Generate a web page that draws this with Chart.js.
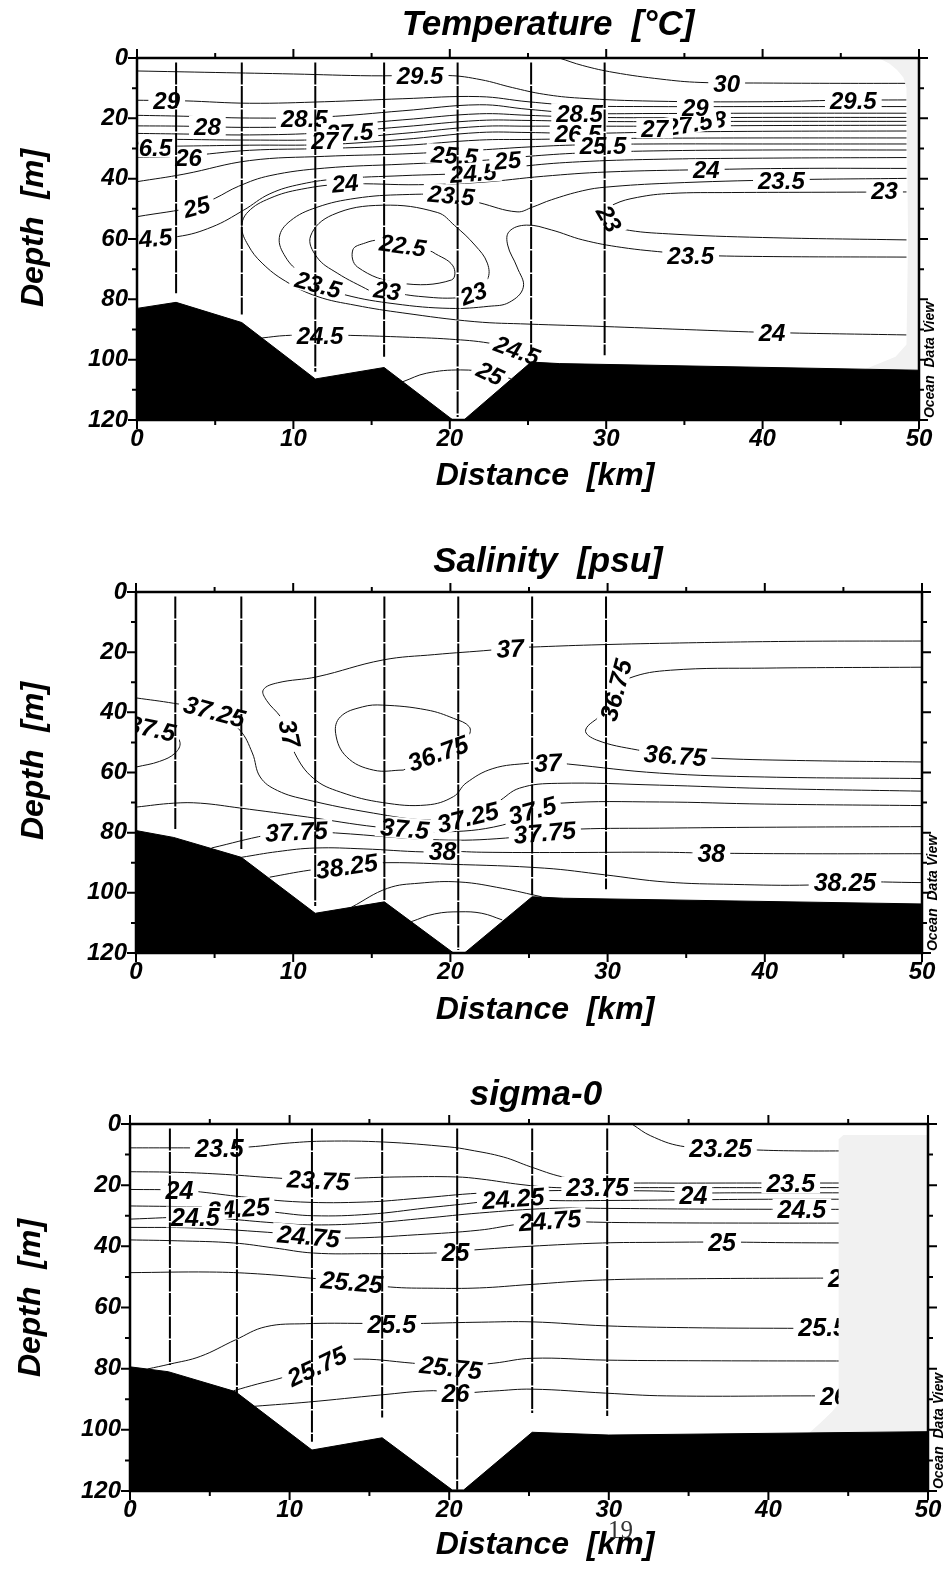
<!DOCTYPE html>
<html>
<head>
<meta charset="utf-8">
<script src="https://cdn.jsdelivr.net/npm/chart.js@4.4.1/dist/chart.umd.min.js"></script>
<style>
  body { margin: 0; background: #fff; width: 948px; height: 1569px; position: relative; overflow: hidden; }
  canvas { position: absolute; left: 0; }
  #pageNo { position: absolute; left: 608px; top: 1516px; font: 25px "Liberation Serif", "DejaVu Serif", serif; color: #333; }
</style>
</head>
<body>
<canvas id="tempChart" width="948" height="530" style="top:0"></canvas>
<canvas id="salChart" width="948" height="540" style="top:530px"></canvas>
<canvas id="sigChart" width="948" height="499" style="top:1070px"></canvas>
<div id="pageNo">19</div>

<script>
const FAMILY = '"Liberation Sans", Arial, sans-serif';

/* ===============================
   AXES / STATIONS
================================ */

const kmTicks = [0, 5, 10, 15, 20, 25, 30, 35, 40, 45, 50];
const depthTicks = [0, 10, 20, 30, 40, 50, 60, 70, 80, 90, 100, 110, 120];

const stationKm = [2.5, 6.7, 11.4, 15.8, 20.5, 25.2, 29.9];
const stationEndTemp = [78, 85, 104, 99, 119, 97.5, 98.5];
const stationEndSal = [78.8, 85.4, 104.4, 102.4, 119, 100.8, 98.8];
const stationEndSig = [78.8, 88, 103.9, 96, 119.6, 94.5, 95.5];

/* ===============================
   BOTTOM PROFILES  [km, m]
================================ */

const bottomTemp = [[0,83],[2.5,81],[6.7,87.7],[11.4,106.4],[15.8,102.6],[20.2,120],[20.9,120],[25.2,100.8],[27,101.3],[50,103.5]];
const bottomSal = [[0,79.3],[2.4,81.6],[6.7,88.2],[11.4,106.8],[15.8,103],[20.2,120],[20.9,120],[25.2,101.3],[27.2,101.8],[50,103.7]];
const bottomSig = [[0,79.4],[2.4,81],[6.6,87.5],[11.4,106.6],[15.8,102.6],[20.2,119.7],[20.9,119.7],[25.2,100.8],[30,101.7],[50,100.6]];

// areas without data (grey)
const noDataTemp = [[46.5,103.3],[48.5,99],[49.2,95],[49.3,60],[49.2,10],[49,6.5],[48.6,4],[48.1,1.8],[47.4,0],[50,0]];
const noDataSal = [];
const noDataSig = [[42.6,100.8],[43.3,97.5],[44,94],[44.4,91.5],[44.4,5],[44.7,3.6],[50,3.6]];

/* ===============================
   TEMPERATURE ISOLINES  [km, m]
================================ */

const tempIsolines = [
  [[27,0],[28.5,2.5],[30.5,4.8],[33.5,7],[36,8.1],[40,8.3],[45,8.4],[49.2,8.4]],                          // 30
  [[0,4.3],[5,4.8],[10,5.3],[15,5.9],[19.9,5.8],[22,7.2],[24,9.8],[26,12],[28.3,13.3],[33,14.3],[40,14.5],[45,14],[49.2,13.9]], // 29.5
  [[0,14],[3,14.2],[7.2,15],[12,14.5],[17,13.5],[21.9,12.8],[25,14.5],[28.3,15.8],[33,16.1],[40,16.1],[49.2,16.1]],  // 29
  [[0,19],[3,19.3],[7.2,19.9],[12,19.5],[17,17.5],[21.9,15.5],[25,17],[28.3,18.3],[33,18.4],[40,18.3],[49.2,18.3]],  // 28.5
  [[0,22.5],[3,22.6],[7.2,23],[12,22.5],[17,20.5],[21.9,18.5],[25,19],[28.3,19.6],[33,19.8],[40,19.7],[49.2,19.7]],  // 28
  [[0,25],[3,25.2],[7.2,25.5],[12,24.8],[17,22.8],[21.9,20.7],[25,20.7],[28.3,21],[33,21.1],[40,21],[49.2,21]],      // 27.5
  [[0,26.8],[3,27],[7.2,27.2],[12,27],[17,25],[21.9,22.7],[25,22.6],[28.3,22.6],[33,22.6],[40,22.4],[49.2,22.3]],    // 27
  [[0,29.4],[3,29.2],[7.2,28.9],[12,28.7],[17,27],[21.9,24.7],[25,24.7],[28.3,25],[33,24.6],[40,24.3],[49.2,24.2]],  // 26.5
  [[0,33],[3,32.5],[7.2,30.6],[12,30],[17,29],[21.9,27.2],[25,27],[28.3,26.8],[33,26.6],[40,26.5],[49.2,26.5]],      // 26
  [[0,41],[3,38.5],[7.2,34],[12,32.6],[17,31.8],[21.9,30.5],[25,29.5],[28.3,28.8],[33,28.5],[40,28.5],[49.2,28.5]],  // 25.5
  [[0,52.6],[3.8,49.2],[5,46.5],[6.5,42.5],[8.5,39],[12,36.5],[17,35.2],[21.9,34],[25,32.6],[28.3,31.5],[33,30.8],[40,30.5],[49.2,30.5]], // 25
  [[0,59.7],[2.6,59.2],[4.8,56],[6.8,50.5],[8.5,45],[10.5,41.8],[13,40],[17,39],[21.5,38],[25,35.7],[28.3,34.4],[33,33.6],[40,33.2],[49.2,33]], // 24.5
  [[49.2,36.6],[42,36.6],[36.4,37],[30,37.8],[26,39.2],[22,41.2],[18,42],[13.3,41.8],[10.5,43.5],[8.5,46.5],[7.1,51],[6.7,56],[7.1,62],[8,68],[9.5,74],[11.5,79],[14,82],[17,84.5],[21.6,87.4],[25,88.2],[29.8,89],[35,90],[40.6,91],[49.2,91.8]], // 24
  [[49.2,39.9],[41.2,40.4],[34,41.5],[30,42.8],[28.5,44],[26.5,47],[25.3,49.4],[24.3,51],[21.9,48],[20.1,45.6],[17,45.3],[14,46.5],[11.5,49.5],[9.8,54],[9.1,59.5],[9.5,66],[10.5,71.5],[11.6,75],[13.3,78.5],[16.5,81.5],[20,83],[22.5,82.3],[23.8,81],[24.7,76],[24.3,69.3],[23.7,62],[23.8,57.5],[24.9,55.4],[26.5,57],[28.5,60.3],[31,62.8],[34.1,64.6],[35.4,65.3],[40,65.8],[49.2,66]], // 23.5
  [[49.2,44.4],[44,44.5],[38,44.6],[34.1,44.9],[32,46.2],[30.5,48.5],[29.8,51.5],[30,54.5],[31.1,56.8],[34,58.3],[40,59.5],[49.2,60.3]], // 23 (east)
  [[14.9,77.2],[12.8,71.3],[11.5,66],[11.1,59],[12.5,52],[15.7,48.8],[19.2,51.2],[20.3,55.5],[21.6,62],[22.4,68],[22.4,73.5],[21.5,77.9],[20.5,79.5],[18,79],[16,77.5],[14.9,77.2]], // 23 (core)
  [[18.9,64.3],[20.2,68.9],[20.1,73.6],[16.8,74.6],[14.1,69.3],[13.8,63.6],[14.6,61.3],[15.5,60.3],[17,60.6],[18.9,64.3]], // 22.5
  [[8,92.8],[9.5,92],[11.7,91.8],[14,92],[17,92.5],[20,93.2],[22.5,94.5],[24.3,96.8],[25.3,100]],          // 24.5 (deep)
  [[17,107.3],[18.5,104.5],[20.7,103.4],[22.6,104.4],[23.9,106.3]]                                           // 25 (deep)
];

const tempLabels = [
  ['30', 37.7, 8.3, 0], ['29.5', 18.1, 5.6, 0], ['29.5', 45.8, 13.9, 0],
  ['29', 1.9, 14, 0], ['28', 4.5, 22.5, 0], ['26.5', 0.75, 29.6, 0], ['26', 3.3, 32.8, 0],
  ['25', 3.8, 49.2, -15], ['24.5', 0.75, 59.7, -5],
  ['28.5', 10.7, 19.9, 0], ['27.5', 13.6, 24.5, -3], ['27', 12, 27.2, 0], ['24', 13.3, 41.4, -5],
  ['25.5', 20.3, 32.2, 4], ['24.5', 21.5, 38, -4], ['25', 23.7, 33.8, -5], ['23.5', 20.1, 45.4, 5],
  ['22.5', 17, 62, 8], ['23.5', 11.6, 75, 15], ['23', 16, 77, 8], ['23', 21.5, 77.9, -20],
  ['24.5', 11.7, 91.8, 0], ['24.5', 24.3, 96.8, 20], ['25', 22.6, 104.4, 25],
  ['28.5', 28.3, 18.3, 0], ['26.5', 28.2, 25, 0], ['25.5', 29.8, 28.8, 0],
  ['28', 36.8, 20.2, 0], ['27.5', 35.3, 21.8, -10], ['29', 35.7, 16.2, 0], ['27', 33.1, 23.3, 0],
  ['24', 36.4, 37, 0], ['23.5', 41.2, 40.4, 0], ['23', 47.8, 43.8, 0], ['23', 30.2, 53.2, 60],
  ['23.5', 35.4, 65.3, 0], ['24', 40.6, 91, 0]
];

/* ===============================
   SALINITY ISOLINES  [km, m]
================================ */

const salIsolines = [
  [[50,16.3],[42,16.4],[34,17],[29,17.6],[25.2,18.3],[23.8,18.6],[22.6,19.3],[19,20.8],[15.7,22.6],[11.5,28.2],[9,30.2],[8.1,32.5],[8.3,36],[9.2,41.5],[9.8,47],[10.1,53.6],[11.3,62],[13,66.5],[15.7,70],[18.5,70.8],[20.2,68],[21,63.5],[22.7,58.7],[25,56.9],[26.2,56.6],[27.5,57.2],[33.3,60.2],[40,61.5],[50,62]], // 37
  [[17,59.2],[15.1,59.2],[13.4,54.8],[12.7,47],[13,41.5],[14.4,38.2],[15.7,37.6],[18.5,39.2],[20.2,42],[21.2,44.8],[21.1,48],[19.2,53.5],[17,59.2]], // 36.75 (west)
  [[50,25],[40,25.3],[34,26],[31.4,28.6],[30.5,32.6],[29.7,40.2],[28.6,45.9],[29.3,49.2],[31.9,52.5],[34.3,54.2],[36.5,55.2],[42,56],[50,56.5]], // 36.75 (east)
  [[0,35.2],[2.4,37],[5,39.6],[6.6,45.9],[7.4,53.5],[7.9,61.5],[9,66],[10.9,69.1],[15.1,73.5],[18.5,75.8],[21.1,74.8],[23,69.8],[24.4,65.2],[26.8,63.6],[33.3,64.2],[40,65.3],[50,66.2]], // 37.25
  [[0,58.2],[1.5,56.3],[2.5,53.5],[2.8,50],[2.3,47],[1,45.2],[-0.5,44.5]],                                   // 37.5 (west)
  [[0,71.5],[2.4,70.2],[4.1,70.2],[6.6,71.8],[10.9,74.8],[15.3,78.1],[17.1,78.5],[19.3,79.8],[23.3,77.5],[25.2,72.5],[27,70.2],[33.3,69.8],[40,70.5],[50,71]], // 37.5
  [[4.8,85.1],[8.3,80.8],[10.2,79.5],[12.7,80.1],[19.3,82.4],[23.5,81.8],[26,79.8],[28.2,78.8],[33.3,78.5],[40,78.2],[50,78]], // 37.75
  [[6.7,88.2],[9,86.3],[11.4,85.1],[14.5,85.4],[18.3,86.4],[19.5,86.1],[22,86.5],[27,86.6],[33.3,86.5],[36.6,86.8],[42,87],[50,87]], // 38
  [[8.5,94.8],[11,92.5],[13.4,91],[15.6,90],[20,90.5],[26,91.8],[29.8,94],[33.7,96.4],[38,97.2],[42.9,97.4],[45.1,96.4],[50,96.6]], // 38.25
  [[13.7,104.8],[16,98.5],[18,96.8],[20.6,96.4],[23.3,98.5],[25.8,101.3]],                                    // 38.5
  [[17.5,109.6],[19,107],[20.6,106.3],[22,106.8],[23.3,109]]                                                  // 38.75
];

const salLabels = [
  ['37', 23.8, 18.6, -3], ['36.75', 30.5, 32.6, -75], ['37.25', 5, 39.6, 15], ['37', 9.8, 47, 78],
  ['36.75', 19.2, 53.5, -20], ['37', 26.2, 56.6, -3], ['36.75', 34.3, 54.2, 4], ['37.5', 1.0, 45.2, 12],
  ['37.75', 10.2, 79.5, -3], ['37.5', 17.1, 78.5, 5], ['37.25', 21.1, 74.8, -14], ['37.5', 25.2, 72.5, -15],
  ['37.75', 26, 79.8, -5], ['38', 19.5, 86.1, 0], ['38', 36.6, 86.8, 0], ['38.25', 13.4, 91, -8],
  ['38.25', 45.1, 96.4, 0]
];

/* ===============================
   SIGMA-0 ISOLINES  [km, m]
================================ */

const sigIsolines = [
  [[31.5,0.2],[32.6,3.8],[34.5,7.2],[37,7.9],[39.3,8.5],[42,8.8],[45,8.8]],                                  // 23.25
  [[0,7.8],[3,7.8],[5.6,7.8],[7.5,7.5],[10,6.2],[12.3,5.6],[15.9,5.9],[20,7.5],[21.3,8.5],[23.4,10.8],[25.1,14],[27.1,17.3],[29.3,19],[33,19.3],[38,19.3],[41.4,19.3],[45,19.3]], // 23.5
  [[0,15.6],[3,15.8],[6,16.5],[9,17.6],[11.8,18.3],[14.2,17.7],[17,17.3],[20.4,17.3],[22,18],[24.5,19.8],[26.7,20.8],[29.3,20.8],[31.3,20.8],[36,20.8],[40,20.8],[45,20.8]], // 23.75
  [[0,21.4],[3.1,21.6],[4.4,22.2],[7,23.8],[10.7,25.5],[14.8,25.5],[18,24.3],[21.9,22.6],[26.3,21.8],[30,21.8],[33.8,22],[35.3,22.5],[38,22.5],[45,22.5]], // 24
  [[0,26.8],[3,27],[6.8,27.5],[9,28.8],[11.5,30],[15,29.5],[18.5,27.5],[21.5,25.8],[24,24.2],[26.3,25],[30,25],[35,24.8],[40,24.6],[45,24.6]], // 24.25
  [[0,31.1],[4.1,30.4],[6,31],[9,32.3],[11.5,33],[15,32.4],[18.5,30.8],[21.9,29.1],[26.3,27.6],[30,27.6],[35,27.8],[42.1,27.9],[45,27.9]], // 24.5
  [[0,33.8],[4,34],[8.6,35.4],[11.2,36.6],[13.6,37.3],[18,36.2],[21.9,34.7],[24,33],[26.3,31.4],[28.4,32],[33,32.3],[40,32.4],[45,32.4]], // 24.75
  [[0,37.9],[3,38.2],[6.5,38.9],[9,40.5],[11.5,42.2],[15,42.4],[19,42.2],[20.4,41.8],[21.5,41.2],[25,40],[29.6,38.9],[33,38.7],[37.1,38.6],[41,38.8],[45,38.9]], // 25
  [[0,48.6],[5,48.4],[8,49],[11.3,50.4],[13.9,51.6],[16.3,53.3],[19,53.7],[21.9,53.6],[25,52.5],[29.6,51],[35,50.6],[43,50.4],[45,50.4]], // 25.25
  [[1.1,80.1],[2.5,78.5],[4.4,76],[6.6,70.6],[8.5,66.3],[11,65.3],[14.6,65.2],[16.4,65.4],[18.4,65.2],[22,64.8],[25.2,64.7],[29.8,66],[35,66.6],[41.2,66.8],[45,66.8]], // 25.5
  [[6.5,87.2],[8,85],[9.5,83],[11.7,79.1],[14,76.9],[17.7,78.2],[20.1,79.5],[22.8,78.2],[25.2,76.6],[29.8,77.2],[35,77.4],[45,77.5]], // 25.75
  [[7.8,92.3],[11.2,90.9],[15.7,88.6],[19,87.2],[20.4,88],[22.8,87.3],[25.2,86.7],[29.8,88],[33.6,88.9],[42.7,88.9],[45,88.9]] // 26
];

const sigLabels = [
  ['23.5', 5.6, 7.8, 0], ['23.75', 11.8, 18.3, 3], ['23.25', 37, 7.8, 0], ['23.75', 29.3, 20.6, 0],
  ['24', 35.3, 23.2, 0], ['23.5', 41.4, 19.3, 0], ['24', 3.1, 21.6, 0], ['24.25', 6.8, 27.5, -4],
  ['24.5', 4.1, 30.4, 0], ['24.25', 24, 24.2, -4], ['24.75', 11.2, 36.6, 5], ['24.75', 26.3, 31.4, -4],
  ['24.5', 42.1, 27.8, 0], ['25', 20.4, 41.8, 0], ['25', 37.1, 38.6, 0], ['25.25', 13.9, 51.6, 5],
  ['25.25', 45.7, 50.4, 0], ['25.5', 16.4, 65.4, 0], ['25.5', 43.4, 66.4, 0], ['25.75', 11.7, 79.1, -25],
  ['25.75', 20.1, 79.5, 6], ['26', 20.4, 88, 0], ['26', 44.1, 88.8, 0]
];

/* ===============================
   DRAWING HELPERS
================================ */

const tickFont = { family: FAMILY, size: 24, style: "italic", weight: "bold" };

function drawIsoLabels(chart, labels, size) {
  const { ctx, chartArea: a, scales: { x, y } } = chart;
  ctx.save();
  ctx.beginPath();
  ctx.rect(a.left, a.top, a.right - a.left, a.bottom - a.top);
  ctx.clip();
  ctx.font = `italic bold ${size}px ${FAMILY}`;
  ctx.textAlign = "center";
  ctx.textBaseline = "alphabetic";
  labels.forEach(([text, km, m, deg]) => {
    const w = ctx.measureText(text).width;
    ctx.save();
    ctx.translate(x.getPixelForValue(km), y.getPixelForValue(m));
    ctx.rotate(deg * Math.PI / 180);
    ctx.fillStyle = "#fff";
    ctx.fillRect(-w / 2 - 5, -size * 0.42, w + 10, size * 0.84);
    ctx.fillStyle = "#000";
    ctx.fillText(text, 0, size * 0.36);
    ctx.restore();
  });
  ctx.restore();
}

function drawFrame(chart) {
  const { ctx, chartArea: a, scales: { x, y } } = chart;
  ctx.save();
  ctx.strokeStyle = "#000";
  ctx.lineWidth = 2.5;
  ctx.strokeRect(a.left, a.top, a.right - a.left, a.bottom - a.top);
  ctx.lineWidth = 2;
  ctx.beginPath();
  kmTicks.forEach(v => {
    const px = x.getPixelForValue(v);
    const len = v % 10 ? 5 : 9;
    ctx.moveTo(px, a.top); ctx.lineTo(px, a.top - len);
    ctx.moveTo(px, a.bottom); ctx.lineTo(px, a.bottom + len);
  });
  depthTicks.forEach(v => {
    const py = y.getPixelForValue(v);
    const len = v % 20 ? 5 : 9;
    ctx.moveTo(a.left, py); ctx.lineTo(a.left - len, py);
    ctx.moveTo(a.right, py); ctx.lineTo(a.right + len, py);
  });
  ctx.stroke();
  ctx.restore();
}

function drawCaptions(chart, s) {
  const { ctx, chartArea: a } = chart;
  ctx.save();
  ctx.fillStyle = "#000";
  ctx.textAlign = "center";
  ctx.textBaseline = "middle";

  ctx.font = `italic bold 35px ${FAMILY}`;
  ctx.fillText(s.title, s.titleAt[0], s.titleAt[1]);

  ctx.font = `italic bold 32px ${FAMILY}`;
  ctx.fillText("Distance  [km]", s.distAt[0], s.distAt[1]);

  ctx.save();
  ctx.translate(s.depthAt[0], s.depthAt[1]);
  ctx.rotate(-Math.PI / 2);
  ctx.fillText("Depth  [m]", 0, 0);
  ctx.restore();

  ctx.font = `italic bold 14px ${FAMILY}`;
  ctx.save();
  ctx.translate(a.right + 11, a.bottom - 60);
  ctx.rotate(-Math.PI / 2);
  ctx.fillText("Ocean  Data View", 0, 0);
  ctx.restore();

  ctx.restore();
}

function sectionDecor(s) {
  return {
    id: "sectionDecor",
    afterDatasetDraw(chart, args) {
      // labels go over the isolines but under the grey mask, the bottom and the stations
      if (chart.data.datasets[args.index].lastIsoline) drawIsoLabels(chart, s.labels, s.labelSize);
    },
    afterDraw(chart) {
      drawFrame(chart);
      drawCaptions(chart, s);
    }
  };
}

function sectionDatasets(s) {
  const xy = p => ({ x: p[0], y: p[1] });
  const sets = [];

  stationKm.forEach((km, i) => {
    sets.push({
      data: [{ x: km, y: 1.5 }, { x: km, y: s.stationEnd[i] }],
      borderColor: "#000",
      borderWidth: 2,
      borderDash: [22, 1.5],
      fill: false
    });
  });

  sets.push({
    data: s.bottom.map(xy),
    borderColor: "#000",
    borderWidth: 1,
    backgroundColor: "#000",
    fill: { value: 120 }
  });

  sets.push({
    data: s.noData.map(xy),
    borderWidth: 0,
    borderColor: "rgba(0,0,0,0)",
    backgroundColor: "#f1f1f1",
    fill: { value: 120 }
  });

  // datasets are painted from the last index to the first,
  // so the first isoline is the last one painted
  s.isolines.forEach((line, i) => {
    sets.push({
      data: line.map(xy),
      borderColor: "#111",
      borderWidth: 1,
      tension: 0.4,
      fill: false,
      lastIsoline: i === 0
    });
  });

  return sets;
}

function buildSection(canvasId, s) {
  return new Chart(document.getElementById(canvasId), {
    type: "line",
    data: { datasets: sectionDatasets(s) },
    options: {
      responsive: false,
      animation: false,
      events: [],
      layout: { padding: { left: 0, top: s.box.top, right: s.box.right, bottom: 0 } },
      elements: { point: { radius: 0 } },
      plugins: { legend: { display: false }, tooltip: { enabled: false } },
      scales: {
        x: {
          type: "linear", min: 0, max: 50,
          ticks: { stepSize: 10, padding: 5, font: tickFont, color: "#000", maxRotation: 0, autoSkip: false },
          grid: { display: false, drawTicks: false },
          border: { display: false },
          afterFit: sc => { sc.height = s.box.xAxis; }
        },
        y: {
          type: "linear", min: 0, max: 120, reverse: true,
          ticks: { stepSize: 20, padding: 9, font: tickFont, color: "#000" },
          grid: { display: false, drawTicks: false },
          border: { display: false },
          afterFit: sc => { sc.width = s.box.left; }
        }
      }
    },
    plugins: [sectionDecor(s)]
  });
}

/* ===============================
   THE THREE SECTIONS
================================ */

buildSection("tempChart", {
  title: "Temperature  [°C]",
  titleAt: [548, 25], distAt: [545, 476], depthAt: [34, 228],
  box: { left: 137, top: 58, right: 29, xAxis: 110 },
  stationEnd: stationEndTemp,
  bottom: bottomTemp, noData: noDataTemp,
  isolines: tempIsolines, labels: tempLabels, labelSize: 24
});

buildSection("salChart", {
  title: "Salinity  [psu]",
  titleAt: [548, 32], distAt: [545, 480], depthAt: [34, 231],
  box: { left: 136, top: 62, right: 26, xAxis: 117 },
  stationEnd: stationEndSal,
  bottom: bottomSal, noData: noDataSal,
  isolines: salIsolines, labels: salLabels, labelSize: 25
});

buildSection("sigChart", {
  title: "sigma-0",
  titleAt: [536, 25], distAt: [545, 475], depthAt: [31, 228],
  box: { left: 130, top: 54, right: 20, xAxis: 78 },
  stationEnd: stationEndSig,
  bottom: bottomSig, noData: noDataSig,
  isolines: sigIsolines, labels: sigLabels, labelSize: 25
});
</script>
</body>
</html>
